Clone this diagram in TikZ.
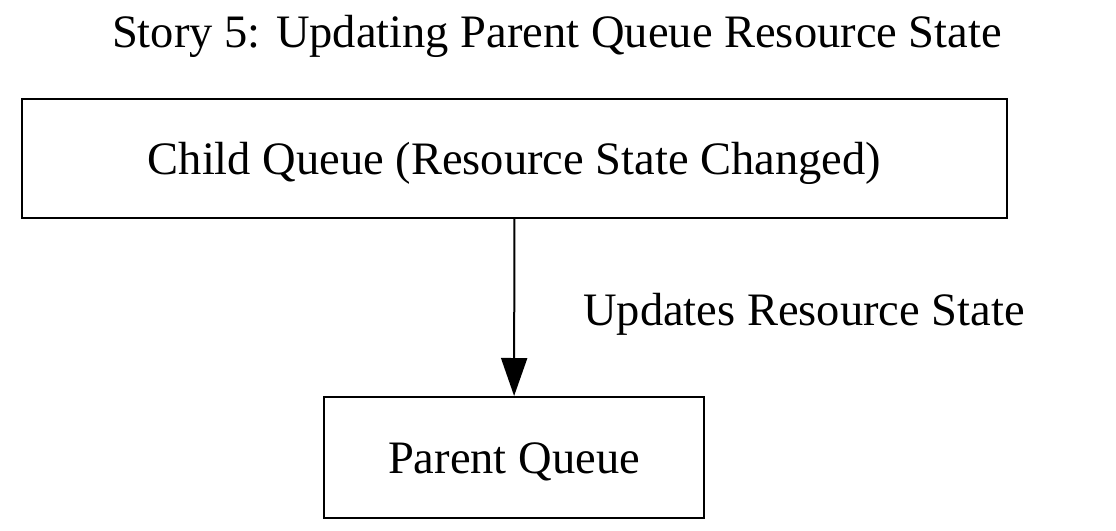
\documentclass[tikz,border=0pt]{standalone}
\usepackage{fontspec}
\setmainfont{Liberation Serif}
\usetikzlibrary{arrows.meta}
\begin{document}
\begin{tikzpicture}[x=1pt,y=-1pt,
  box/.style={draw,line width=2pt,inner sep=0pt,text height=39pt,text depth=7pt,font=\fontsize{46.5}{50}\selectfont},
  lbl/.style={font=\fontsize{46.5}{50}\selectfont,inner sep=0pt},
  conn/.style={line width=2pt,-{Triangle[length=38pt,width=26pt]}}]
\useasboundingbox (0,0) rectangle (1116,530);
\node[lbl,anchor=base] (title) at (557,47) {Story 5: Updating Parent Queue Resource State};
\node[box,minimum width=985pt,minimum height=119pt] (child) at (514.5,158.5) {Child Queue (Resource State Changed)};
\node[box,minimum width=380pt,minimum height=121pt] (parent) at (514,457.5) {Parent Queue};
\draw[conn] (child) -- (parent);
\node[lbl,anchor=base west] (elbl) at (583,325) {Updates Resource State};
\end{tikzpicture}
\end{document}
